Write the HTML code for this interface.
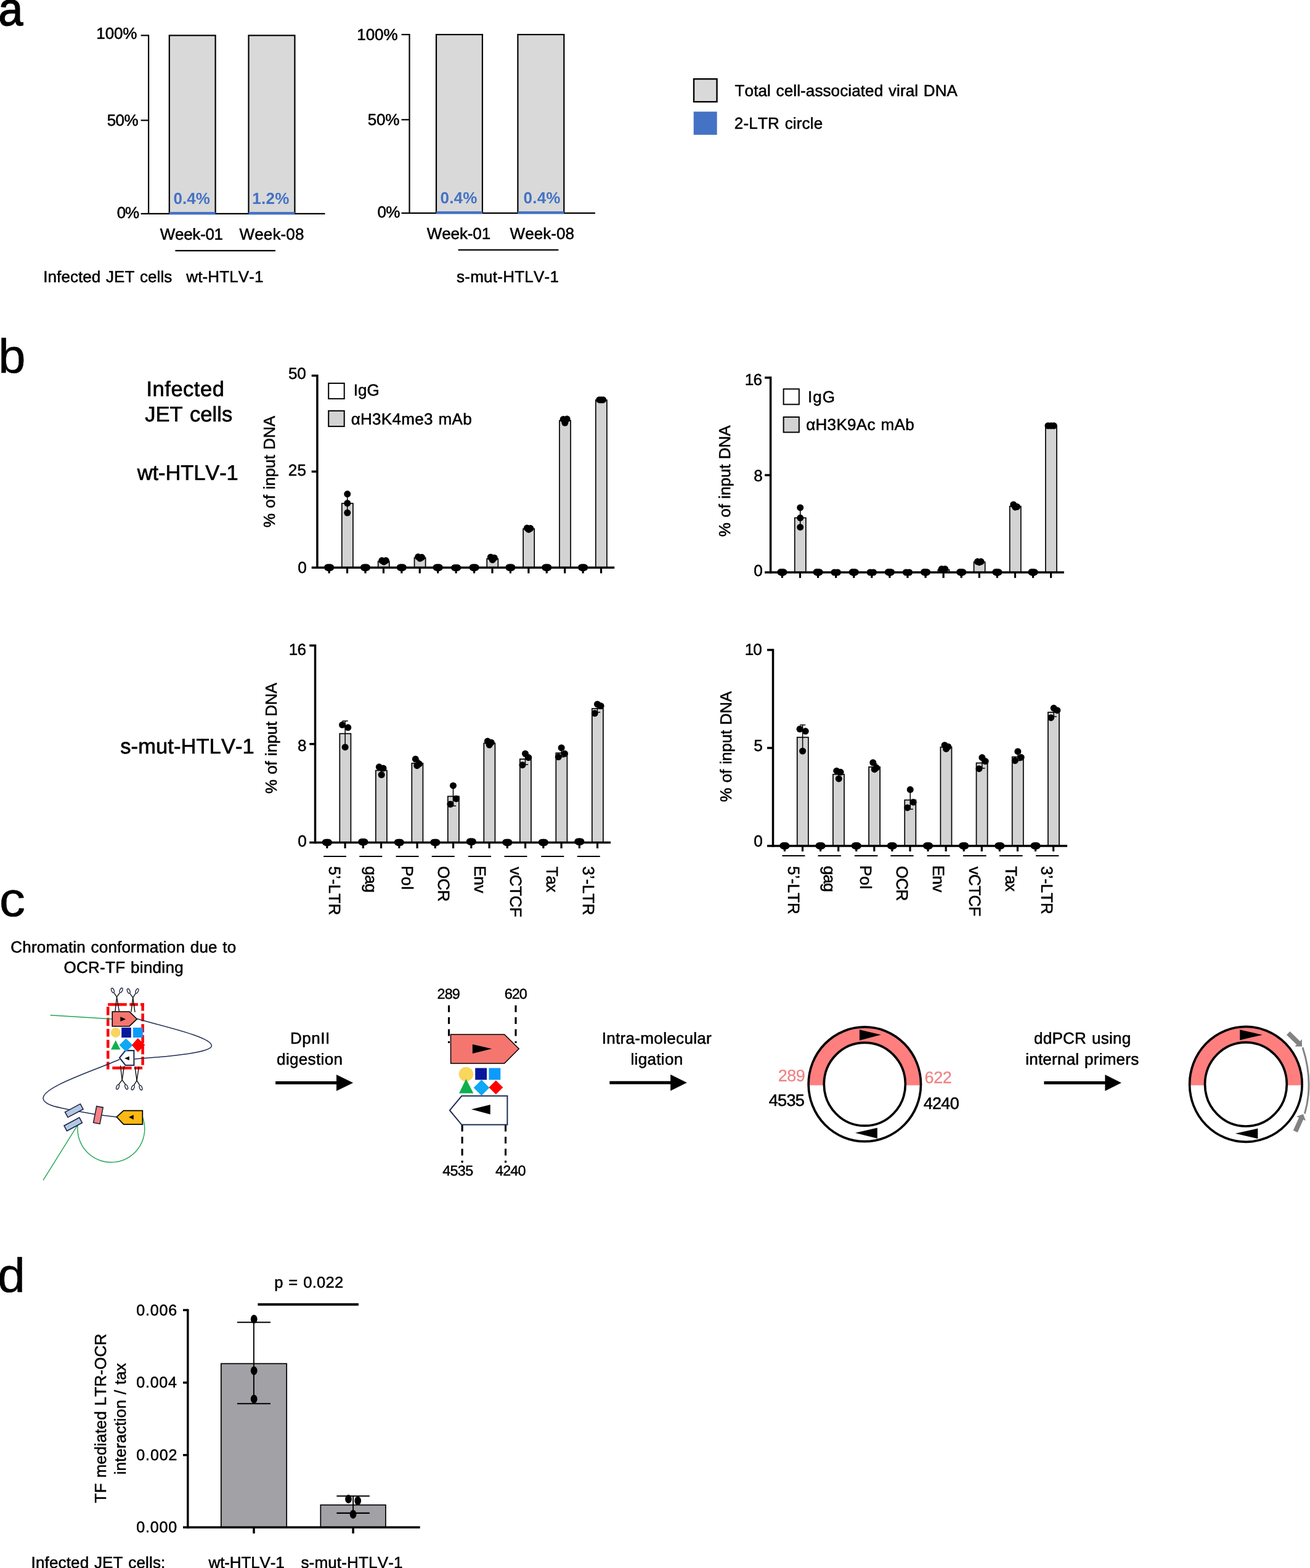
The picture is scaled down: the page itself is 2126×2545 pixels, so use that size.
<!DOCTYPE html>
<html lang="en">
<head>
<meta charset="utf-8">
<title>Figure</title>
<style>
html,body{margin:0;padding:0;background:#fff;}
body{width:2126px;height:2545px;overflow:hidden;}
svg{display:block;}
text{font-family:"Liberation Sans", sans-serif;font-kerning:none;text-rendering:geometricPrecision;white-space:pre;stroke-linejoin:round;}
</style>
</head>
<body>
<svg width="2126" height="2545" viewBox="0 0 2126 2545">
<rect x="0" y="0" width="2126" height="2545" fill="#fff"/>
<g id="panel-a">
<text transform="translate(-2.59 41.1) scale(0.9342 1)" x="0" y="0" font-size="76.48" stroke="#000" stroke-width="1.7">a</text>
<rect x="274.8" y="57.5" width="74.8" height="289.3" fill="#D9D9D9" stroke="#000" stroke-width="2.2"/>
<rect x="403.5" y="57.5" width="74.9" height="289.3" fill="#D9D9D9" stroke="#000" stroke-width="2.2"/>
<line x1="241.1" y1="56.5" x2="241.1" y2="347.8" stroke="#000" stroke-width="2.2"/>
<line x1="228.6" y1="346.8" x2="527.5" y2="346.8" stroke="#000" stroke-width="2.2"/>
<line x1="228.6" y1="57.5" x2="241.1" y2="57.5" stroke="#000" stroke-width="2.2"/>
<line x1="228.6" y1="195.3" x2="241.1" y2="195.3" stroke="#000" stroke-width="2.2"/>
<rect x="274.8" y="344" width="74.8" height="4.4" fill="#4472C4"/>
<rect x="403.5" y="344" width="74.9" height="4.4" fill="#4472C4"/>
<text x="156.29" y="63.3" font-size="26" letter-spacing="-0.112" stroke="#000" stroke-width="0.55">100%</text>
<text x="173.73" y="203.5" font-size="26" letter-spacing="-0.558" stroke="#000" stroke-width="0.55">50%</text>
<text x="189.86" y="353.9" font-size="26" letter-spacing="-1.282" stroke="#000" stroke-width="0.55">0%</text>
<text x="259.86" y="388.5" font-size="26" letter-spacing="-0.317" stroke="#000" stroke-width="0.55">Week-01</text>
<text x="388.46" y="388.5" font-size="26" letter-spacing="0.160" stroke="#000" stroke-width="0.55">Week-08</text>
<line x1="284.4" y1="406.8" x2="447" y2="406.8" stroke="#000" stroke-width="2.2"/>
<text x="281.57" y="331" font-size="26" letter-spacing="-0.016" font-weight="bold" fill="#4472C4">0.4%</text>
<text x="409.36" y="331" font-size="26" letter-spacing="0.254" font-weight="bold" fill="#4472C4">1.2%</text>
<rect x="708" y="56.1" width="74.9" height="289.7" fill="#D9D9D9" stroke="#000" stroke-width="2.2"/>
<rect x="840.4" y="56.1" width="74.9" height="289.7" fill="#D9D9D9" stroke="#000" stroke-width="2.2"/>
<line x1="664.5" y1="55.1" x2="664.5" y2="346.8" stroke="#000" stroke-width="2.2"/>
<line x1="651.5" y1="345.8" x2="966" y2="345.8" stroke="#000" stroke-width="2.2"/>
<line x1="651.5" y1="56.1" x2="664.5" y2="56.1" stroke="#000" stroke-width="2.2"/>
<line x1="651.5" y1="194.3" x2="664.5" y2="194.3" stroke="#000" stroke-width="2.2"/>
<rect x="708" y="343" width="74.9" height="4.4" fill="#4472C4"/>
<rect x="840.4" y="343" width="74.9" height="4.4" fill="#4472C4"/>
<text x="579.19" y="64.8" font-size="26" letter-spacing="-0.012" stroke="#000" stroke-width="0.55">100%</text>
<text x="596.73" y="202.5" font-size="26" letter-spacing="-0.158" stroke="#000" stroke-width="0.55">50%</text>
<text x="612.46" y="353" font-size="26" letter-spacing="-0.582" stroke="#000" stroke-width="0.55">0%</text>
<text x="692.76" y="387.6" font-size="26" letter-spacing="-0.100" stroke="#000" stroke-width="0.55">Week-01</text>
<text x="827.56" y="387.6" font-size="26" letter-spacing="0.043" stroke="#000" stroke-width="0.55">Week-08</text>
<line x1="743.6" y1="405.7" x2="906.4" y2="405.7" stroke="#000" stroke-width="2.2"/>
<text x="714.47" y="330" font-size="26" letter-spacing="0.217" font-weight="bold" fill="#4472C4">0.4%</text>
<text x="849.57" y="330" font-size="26" letter-spacing="0.217" font-weight="bold" fill="#4472C4">0.4%</text>
<text x="70.27" y="457.7" font-size="26" word-spacing="1.30" letter-spacing="0.071" stroke="#000" stroke-width="0.55">Infected JET cells</text>
<text x="302.31" y="457.7" font-size="26" letter-spacing="0.131" stroke="#000" stroke-width="0.55">wt-HTLV-1</text>
<text x="741.05" y="457.7" font-size="26" letter-spacing="0.246" stroke="#000" stroke-width="0.55">s-mut-HTLV-1</text>
<rect x="1126" y="128.2" width="37.5" height="37" fill="#D9D9D9" stroke="#000" stroke-width="2.4"/>
<rect x="1125.7" y="181.2" width="37.9" height="37.6" fill="#4472C4"/>
<text x="1192.59" y="155.8" font-size="26" word-spacing="1.30" letter-spacing="0.113" stroke="#000" stroke-width="0.55">Total cell-associated viral DNA</text>
<text x="1191.87" y="208.8" font-size="26" word-spacing="1.30" letter-spacing="0.171" stroke="#000" stroke-width="0.55">2-LTR circle</text>
</g>
<g id="panel-b">
<text transform="translate(-2.82 604.89) scale(1.0171 1)" x="0" y="0" font-size="78.16" stroke="#000" stroke-width="0.5">b</text>
<text x="237.48" y="642.6" font-size="34.5" letter-spacing="0.518" stroke="#000" stroke-width="0.72">Infected</text>
<text x="235.32" y="683.9" font-size="34.5" word-spacing="1.73" letter-spacing="0.025" stroke="#000" stroke-width="0.72">JET cells</text>
<text x="222.71" y="779.4" font-size="34.5" letter-spacing="-0.105" stroke="#000" stroke-width="0.72">wt-HTLV-1</text>
<text x="195.3" y="1222.6" font-size="34.5" letter-spacing="0.074" stroke="#000" stroke-width="0.72">s-mut-HTLV-1</text>
<rect x="554.78" y="817.1" width="18.1" height="104.2" fill="#D3D3D3" stroke="#000" stroke-width="1.7"/>
<rect x="613.64" y="911.2" width="18.1" height="10.1" fill="#D3D3D3" stroke="#000" stroke-width="1.7"/>
<rect x="672.5" y="905.3" width="18.1" height="16" fill="#D3D3D3" stroke="#000" stroke-width="1.7"/>
<rect x="790.22" y="906.9" width="18.1" height="14.4" fill="#D3D3D3" stroke="#000" stroke-width="1.7"/>
<rect x="849.08" y="858.3" width="18.1" height="63" fill="#D3D3D3" stroke="#000" stroke-width="1.7"/>
<rect x="907.94" y="682.6" width="18.1" height="238.7" fill="#D3D3D3" stroke="#000" stroke-width="1.7"/>
<rect x="966.8" y="649.3" width="18.1" height="272" fill="#D3D3D3" stroke="#000" stroke-width="1.7"/>
<line x1="563.7" y1="801.8" x2="563.7" y2="832.3" stroke="#000" stroke-width="1.5"/>
<line x1="514.9" y1="607.95" x2="514.9" y2="923.05" stroke="#000" stroke-width="3.5"/>
<line x1="505.7" y1="921.3" x2="997.2" y2="921.3" stroke="#000" stroke-width="3.5"/>
<line x1="505.7" y1="609.7" x2="514.9" y2="609.7" stroke="#000" stroke-width="3.5"/>
<line x1="505.7" y1="765.4" x2="514.9" y2="765.4" stroke="#000" stroke-width="3.5"/>
<line x1="534.1" y1="921.3" x2="534.1" y2="930.5" stroke="#000" stroke-width="3.2"/>
<line x1="563.53" y1="921.3" x2="563.53" y2="930.5" stroke="#000" stroke-width="3.2"/>
<line x1="592.96" y1="921.3" x2="592.96" y2="930.5" stroke="#000" stroke-width="3.2"/>
<line x1="622.39" y1="921.3" x2="622.39" y2="930.5" stroke="#000" stroke-width="3.2"/>
<line x1="651.82" y1="921.3" x2="651.82" y2="930.5" stroke="#000" stroke-width="3.2"/>
<line x1="681.25" y1="921.3" x2="681.25" y2="930.5" stroke="#000" stroke-width="3.2"/>
<line x1="710.68" y1="921.3" x2="710.68" y2="930.5" stroke="#000" stroke-width="3.2"/>
<line x1="740.11" y1="921.3" x2="740.11" y2="930.5" stroke="#000" stroke-width="3.2"/>
<line x1="769.54" y1="921.3" x2="769.54" y2="930.5" stroke="#000" stroke-width="3.2"/>
<line x1="798.97" y1="921.3" x2="798.97" y2="930.5" stroke="#000" stroke-width="3.2"/>
<line x1="828.4" y1="921.3" x2="828.4" y2="930.5" stroke="#000" stroke-width="3.2"/>
<line x1="857.83" y1="921.3" x2="857.83" y2="930.5" stroke="#000" stroke-width="3.2"/>
<line x1="887.26" y1="921.3" x2="887.26" y2="930.5" stroke="#000" stroke-width="3.2"/>
<line x1="916.69" y1="921.3" x2="916.69" y2="930.5" stroke="#000" stroke-width="3.2"/>
<line x1="946.12" y1="921.3" x2="946.12" y2="930.5" stroke="#000" stroke-width="3.2"/>
<line x1="975.55" y1="921.3" x2="975.55" y2="930.5" stroke="#000" stroke-width="3.2"/>
<ellipse cx="534.1" cy="921.2" rx="7.6" ry="5.9" fill="#000"/>
<circle cx="531.5" cy="921" r="5.5" fill="#000"/>
<circle cx="536.7" cy="921.1" r="5.5" fill="#000"/>
<circle cx="534.1" cy="921.9" r="5.5" fill="#000"/>
<ellipse cx="592.96" cy="921.2" rx="7.6" ry="5.9" fill="#000"/>
<circle cx="590.36" cy="921" r="5.5" fill="#000"/>
<circle cx="595.56" cy="921.1" r="5.5" fill="#000"/>
<circle cx="592.96" cy="921.9" r="5.5" fill="#000"/>
<ellipse cx="651.82" cy="921.2" rx="7.6" ry="5.9" fill="#000"/>
<circle cx="649.22" cy="921" r="5.5" fill="#000"/>
<circle cx="654.42" cy="921.1" r="5.5" fill="#000"/>
<circle cx="651.82" cy="921.9" r="5.5" fill="#000"/>
<ellipse cx="710.68" cy="921.2" rx="7.6" ry="5.9" fill="#000"/>
<circle cx="708.08" cy="921" r="5.5" fill="#000"/>
<circle cx="713.28" cy="921.1" r="5.5" fill="#000"/>
<circle cx="710.68" cy="921.9" r="5.5" fill="#000"/>
<ellipse cx="769.54" cy="921.2" rx="7.6" ry="5.9" fill="#000"/>
<circle cx="766.94" cy="921" r="5.5" fill="#000"/>
<circle cx="772.14" cy="921.1" r="5.5" fill="#000"/>
<circle cx="769.54" cy="921.9" r="5.5" fill="#000"/>
<ellipse cx="828.4" cy="921.2" rx="7.6" ry="5.9" fill="#000"/>
<circle cx="825.8" cy="921" r="5.5" fill="#000"/>
<circle cx="831" cy="921.1" r="5.5" fill="#000"/>
<circle cx="828.4" cy="921.9" r="5.5" fill="#000"/>
<ellipse cx="887.26" cy="921.2" rx="7.6" ry="5.9" fill="#000"/>
<circle cx="884.66" cy="921" r="5.5" fill="#000"/>
<circle cx="889.86" cy="921.1" r="5.5" fill="#000"/>
<circle cx="887.26" cy="921.9" r="5.5" fill="#000"/>
<ellipse cx="946.12" cy="921.2" rx="7.6" ry="5.9" fill="#000"/>
<circle cx="943.52" cy="921" r="5.5" fill="#000"/>
<circle cx="948.72" cy="921.1" r="5.5" fill="#000"/>
<circle cx="946.12" cy="921.9" r="5.5" fill="#000"/>
<circle cx="563.74" cy="801.79" r="5.5" fill="#000"/>
<circle cx="563.74" cy="816.76" r="5.5" fill="#000"/>
<circle cx="563.74" cy="832.33" r="5.5" fill="#000"/>
<circle cx="619.77" cy="909.85" r="5.5" fill="#000"/>
<circle cx="626.3" cy="909.85" r="5.5" fill="#000"/>
<circle cx="623.04" cy="911.93" r="5.5" fill="#000"/>
<circle cx="678.62" cy="903.78" r="5.5" fill="#000"/>
<circle cx="684.55" cy="904.52" r="5.5" fill="#000"/>
<circle cx="681.59" cy="906.3" r="5.5" fill="#000"/>
<circle cx="796.33" cy="904.24" r="5.5" fill="#000"/>
<circle cx="802.26" cy="905.42" r="5.5" fill="#000"/>
<circle cx="799.29" cy="908.68" r="5.5" fill="#000"/>
<circle cx="855.33" cy="857.1" r="5.5" fill="#000"/>
<circle cx="860.81" cy="857.54" r="5.5" fill="#000"/>
<circle cx="858" cy="859.47" r="5.5" fill="#000"/>
<circle cx="914.18" cy="680.4" r="5.5" fill="#000"/>
<circle cx="920.11" cy="680.1" r="5.5" fill="#000"/>
<circle cx="916.85" cy="686.33" r="5.5" fill="#000"/>
<circle cx="972.73" cy="648.97" r="5.5" fill="#000"/>
<circle cx="975.7" cy="649.12" r="5.5" fill="#000"/>
<circle cx="978.66" cy="648.97" r="5.5" fill="#000"/>
<circle cx="737.61" cy="921.4" r="5.5" fill="#000"/>
<circle cx="742.61" cy="921.4" r="5.5" fill="#000"/>
<circle cx="740.11" cy="921.6" r="5.5" fill="#000"/>
<text x="467.93" y="615.2" font-size="26" letter-spacing="-0.109" stroke="#000" stroke-width="0.55">50</text>
<text x="467.67" y="771.7" font-size="26" letter-spacing="0.283" stroke="#000" stroke-width="0.55">25</text>
<text x="483.16" y="929.8" font-size="26" stroke="#000" stroke-width="0.55">0</text>
<text transform="translate(445.8 855.7) rotate(-90)" x="-0.65" y="0" font-size="26" word-spacing="1.30" letter-spacing="-0.017" stroke="#000" stroke-width="0.55">% of input DNA</text>
<rect x="533.2" y="622.1" width="25.5" height="25.1" fill="#fff" stroke="#000" stroke-width="2"/>
<rect x="533.2" y="666.8" width="25.5" height="25.3" fill="#D3D3D3" stroke="#000" stroke-width="2"/>
<text x="573.87" y="642.3" font-size="26" letter-spacing="-0.056" stroke="#000" stroke-width="0.55">IgG</text>
<text x="569.68" y="688.5" font-size="26" word-spacing="1.30" letter-spacing="0.301" stroke="#000" stroke-width="0.55">αH3K4me3 mAb</text>
<rect x="1289.73" y="840.5" width="18.1" height="88.4" fill="#D3D3D3" stroke="#000" stroke-width="1.7"/>
<rect x="1522.37" y="924.7" width="18.1" height="4.2" fill="#D3D3D3" stroke="#000" stroke-width="1.7"/>
<rect x="1580.53" y="912.3" width="18.1" height="16.6" fill="#D3D3D3" stroke="#000" stroke-width="1.7"/>
<rect x="1638.69" y="821.8" width="18.1" height="107.1" fill="#D3D3D3" stroke="#000" stroke-width="1.7"/>
<rect x="1696.85" y="691.3" width="18.1" height="237.6" fill="#D3D3D3" stroke="#000" stroke-width="1.7"/>
<line x1="1298.71" y1="823.9" x2="1298.71" y2="855.72" stroke="#000" stroke-width="1.5"/>
<line x1="1250.6" y1="611.25" x2="1250.6" y2="930.65" stroke="#000" stroke-width="3.5"/>
<line x1="1241.1" y1="928.9" x2="1726.8" y2="928.9" stroke="#000" stroke-width="3.5"/>
<line x1="1241.1" y1="613" x2="1250.6" y2="613" stroke="#000" stroke-width="3.5"/>
<line x1="1241.1" y1="771.2" x2="1250.6" y2="771.2" stroke="#000" stroke-width="3.5"/>
<line x1="1269.4" y1="928.9" x2="1269.4" y2="938.1" stroke="#000" stroke-width="3.2"/>
<line x1="1298.48" y1="928.9" x2="1298.48" y2="938.1" stroke="#000" stroke-width="3.2"/>
<line x1="1327.56" y1="928.9" x2="1327.56" y2="938.1" stroke="#000" stroke-width="3.2"/>
<line x1="1356.64" y1="928.9" x2="1356.64" y2="938.1" stroke="#000" stroke-width="3.2"/>
<line x1="1385.72" y1="928.9" x2="1385.72" y2="938.1" stroke="#000" stroke-width="3.2"/>
<line x1="1414.8" y1="928.9" x2="1414.8" y2="938.1" stroke="#000" stroke-width="3.2"/>
<line x1="1443.88" y1="928.9" x2="1443.88" y2="938.1" stroke="#000" stroke-width="3.2"/>
<line x1="1472.96" y1="928.9" x2="1472.96" y2="938.1" stroke="#000" stroke-width="3.2"/>
<line x1="1502.04" y1="928.9" x2="1502.04" y2="938.1" stroke="#000" stroke-width="3.2"/>
<line x1="1531.12" y1="928.9" x2="1531.12" y2="938.1" stroke="#000" stroke-width="3.2"/>
<line x1="1560.2" y1="928.9" x2="1560.2" y2="938.1" stroke="#000" stroke-width="3.2"/>
<line x1="1589.28" y1="928.9" x2="1589.28" y2="938.1" stroke="#000" stroke-width="3.2"/>
<line x1="1618.36" y1="928.9" x2="1618.36" y2="938.1" stroke="#000" stroke-width="3.2"/>
<line x1="1647.44" y1="928.9" x2="1647.44" y2="938.1" stroke="#000" stroke-width="3.2"/>
<line x1="1676.52" y1="928.9" x2="1676.52" y2="938.1" stroke="#000" stroke-width="3.2"/>
<line x1="1705.6" y1="928.9" x2="1705.6" y2="938.1" stroke="#000" stroke-width="3.2"/>
<ellipse cx="1269.4" cy="928.8" rx="7.6" ry="5.9" fill="#000"/>
<circle cx="1266.8" cy="928.6" r="5.5" fill="#000"/>
<circle cx="1272" cy="928.7" r="5.5" fill="#000"/>
<circle cx="1269.4" cy="929.5" r="5.5" fill="#000"/>
<ellipse cx="1327.56" cy="928.8" rx="7.6" ry="5.9" fill="#000"/>
<circle cx="1324.96" cy="928.6" r="5.5" fill="#000"/>
<circle cx="1330.16" cy="928.7" r="5.5" fill="#000"/>
<circle cx="1327.56" cy="929.5" r="5.5" fill="#000"/>
<ellipse cx="1385.72" cy="928.8" rx="7.6" ry="5.9" fill="#000"/>
<circle cx="1383.12" cy="928.6" r="5.5" fill="#000"/>
<circle cx="1388.32" cy="928.7" r="5.5" fill="#000"/>
<circle cx="1385.72" cy="929.5" r="5.5" fill="#000"/>
<ellipse cx="1443.88" cy="928.8" rx="7.6" ry="5.9" fill="#000"/>
<circle cx="1441.28" cy="928.6" r="5.5" fill="#000"/>
<circle cx="1446.48" cy="928.7" r="5.5" fill="#000"/>
<circle cx="1443.88" cy="929.5" r="5.5" fill="#000"/>
<ellipse cx="1502.04" cy="928.8" rx="7.6" ry="5.9" fill="#000"/>
<circle cx="1499.44" cy="928.6" r="5.5" fill="#000"/>
<circle cx="1504.64" cy="928.7" r="5.5" fill="#000"/>
<circle cx="1502.04" cy="929.5" r="5.5" fill="#000"/>
<ellipse cx="1560.2" cy="928.8" rx="7.6" ry="5.9" fill="#000"/>
<circle cx="1557.6" cy="928.6" r="5.5" fill="#000"/>
<circle cx="1562.8" cy="928.7" r="5.5" fill="#000"/>
<circle cx="1560.2" cy="929.5" r="5.5" fill="#000"/>
<ellipse cx="1618.36" cy="928.8" rx="7.6" ry="5.9" fill="#000"/>
<circle cx="1615.76" cy="928.6" r="5.5" fill="#000"/>
<circle cx="1620.96" cy="928.7" r="5.5" fill="#000"/>
<circle cx="1618.36" cy="929.5" r="5.5" fill="#000"/>
<ellipse cx="1676.52" cy="928.8" rx="7.6" ry="5.9" fill="#000"/>
<circle cx="1673.92" cy="928.6" r="5.5" fill="#000"/>
<circle cx="1679.12" cy="928.7" r="5.5" fill="#000"/>
<circle cx="1676.52" cy="929.5" r="5.5" fill="#000"/>
<circle cx="1298.71" cy="823.9" r="5.5" fill="#000"/>
<circle cx="1298.71" cy="840.52" r="5.5" fill="#000"/>
<circle cx="1298.71" cy="855.72" r="5.5" fill="#000"/>
<circle cx="1528.12" cy="923.58" r="5.5" fill="#000"/>
<circle cx="1533.78" cy="923.58" r="5.5" fill="#000"/>
<circle cx="1530.95" cy="924.29" r="5.5" fill="#000"/>
<circle cx="1586.45" cy="911.57" r="5.5" fill="#000"/>
<circle cx="1592.1" cy="911.57" r="5.5" fill="#000"/>
<circle cx="1589.28" cy="912.63" r="5.5" fill="#000"/>
<circle cx="1644.77" cy="818.95" r="5.5" fill="#000"/>
<circle cx="1650.43" cy="822.49" r="5.5" fill="#000"/>
<circle cx="1647.6" cy="823.2" r="5.5" fill="#000"/>
<circle cx="1700.98" cy="690.99" r="5.5" fill="#000"/>
<circle cx="1705.57" cy="690.99" r="5.5" fill="#000"/>
<circle cx="1710.17" cy="690.99" r="5.5" fill="#000"/>
<circle cx="1353.94" cy="929" r="5.5" fill="#000"/>
<circle cx="1359.34" cy="929" r="5.5" fill="#000"/>
<circle cx="1356.64" cy="929.2" r="5.5" fill="#000"/>
<circle cx="1412.1" cy="929" r="5.5" fill="#000"/>
<circle cx="1417.5" cy="929" r="5.5" fill="#000"/>
<circle cx="1414.8" cy="929.2" r="5.5" fill="#000"/>
<circle cx="1470.26" cy="929" r="5.5" fill="#000"/>
<circle cx="1475.66" cy="929" r="5.5" fill="#000"/>
<circle cx="1472.96" cy="929.2" r="5.5" fill="#000"/>
<text x="1208.79" y="624.7" font-size="26" letter-spacing="-0.793" stroke="#000" stroke-width="0.55">16</text>
<text x="1223.24" y="780.6" font-size="26" stroke="#000" stroke-width="0.55">8</text>
<text x="1223.16" y="935.2" font-size="26" stroke="#000" stroke-width="0.55">0</text>
<text transform="translate(1184.5 870.6) rotate(-90)" x="-0.65" y="0" font-size="26" word-spacing="1.30" letter-spacing="-0.070" stroke="#000" stroke-width="0.55">% of input DNA</text>
<rect x="1271.6" y="631.4" width="25.2" height="25" fill="#fff" stroke="#000" stroke-width="2"/>
<rect x="1271.6" y="676.9" width="25.2" height="24.7" fill="#D3D3D3" stroke="#000" stroke-width="2"/>
<text x="1311.07" y="652.5" font-size="26" letter-spacing="0.944" stroke="#000" stroke-width="0.55">IgG</text>
<text x="1308.18" y="698.4" font-size="26" word-spacing="1.30" letter-spacing="0.314" stroke="#000" stroke-width="0.55">αH3K9Ac mAb</text>
<rect x="551.3" y="1190.7" width="18.1" height="176.8" fill="#D3D3D3" stroke="#000" stroke-width="1.7"/>
<rect x="609.8" y="1250.5" width="18.1" height="117" fill="#D3D3D3" stroke="#000" stroke-width="1.7"/>
<rect x="668.3" y="1238.8" width="18.1" height="128.7" fill="#D3D3D3" stroke="#000" stroke-width="1.7"/>
<rect x="726.8" y="1292.5" width="18.1" height="75" fill="#D3D3D3" stroke="#000" stroke-width="1.7"/>
<rect x="785.3" y="1206.3" width="18.1" height="161.2" fill="#D3D3D3" stroke="#000" stroke-width="1.7"/>
<rect x="843.8" y="1232.1" width="18.1" height="135.4" fill="#D3D3D3" stroke="#000" stroke-width="1.7"/>
<rect x="902.3" y="1222.2" width="18.1" height="145.3" fill="#D3D3D3" stroke="#000" stroke-width="1.7"/>
<rect x="960.8" y="1150.1" width="18.1" height="217.4" fill="#D3D3D3" stroke="#000" stroke-width="1.7"/>
<line x1="560.13" y1="1170.23" x2="560.13" y2="1210.88" stroke="#000" stroke-width="1.5"/>
<line x1="555.53" y1="1170.23" x2="564.73" y2="1170.23" stroke="#000" stroke-width="1.5"/>
<line x1="555.53" y1="1210.88" x2="564.73" y2="1210.88" stroke="#000" stroke-width="1.5"/>
<line x1="735.45" y1="1275.21" x2="735.45" y2="1308.09" stroke="#000" stroke-width="1.5"/>
<line x1="730.85" y1="1275.21" x2="740.05" y2="1275.21" stroke="#000" stroke-width="1.5"/>
<line x1="730.85" y1="1308.09" x2="740.05" y2="1308.09" stroke="#000" stroke-width="1.5"/>
<line x1="852.46" y1="1223.25" x2="852.46" y2="1240.93" stroke="#000" stroke-width="1.5"/>
<line x1="847.86" y1="1223.25" x2="857.06" y2="1223.25" stroke="#000" stroke-width="1.5"/>
<line x1="847.86" y1="1240.93" x2="857.06" y2="1240.93" stroke="#000" stroke-width="1.5"/>
<line x1="911.13" y1="1216.18" x2="911.13" y2="1228.55" stroke="#000" stroke-width="1.5"/>
<line x1="906.53" y1="1216.18" x2="915.73" y2="1216.18" stroke="#000" stroke-width="1.5"/>
<line x1="906.53" y1="1228.55" x2="915.73" y2="1228.55" stroke="#000" stroke-width="1.5"/>
<line x1="969.46" y1="1144.43" x2="969.46" y2="1156.09" stroke="#000" stroke-width="1.5"/>
<line x1="964.86" y1="1144.43" x2="974.06" y2="1144.43" stroke="#000" stroke-width="1.5"/>
<line x1="964.86" y1="1156.09" x2="974.06" y2="1156.09" stroke="#000" stroke-width="1.5"/>
<line x1="676.78" y1="1233.86" x2="676.78" y2="1242.69" stroke="#000" stroke-width="1.5"/>
<line x1="672.18" y1="1233.86" x2="681.38" y2="1233.86" stroke="#000" stroke-width="1.5"/>
<line x1="672.18" y1="1242.69" x2="681.38" y2="1242.69" stroke="#000" stroke-width="1.5"/>
<line x1="618.45" y1="1246.23" x2="618.45" y2="1256.13" stroke="#000" stroke-width="1.5"/>
<line x1="613.85" y1="1246.23" x2="623.05" y2="1246.23" stroke="#000" stroke-width="1.5"/>
<line x1="613.85" y1="1256.13" x2="623.05" y2="1256.13" stroke="#000" stroke-width="1.5"/>
<line x1="511.5" y1="1045.95" x2="511.5" y2="1369.25" stroke="#000" stroke-width="3.5"/>
<line x1="502.2" y1="1367.5" x2="991" y2="1367.5" stroke="#000" stroke-width="3.5"/>
<line x1="502.2" y1="1047.7" x2="511.5" y2="1047.7" stroke="#000" stroke-width="3.5"/>
<line x1="502.2" y1="1207.6" x2="511.5" y2="1207.6" stroke="#000" stroke-width="3.5"/>
<line x1="530.8" y1="1367.5" x2="530.8" y2="1376.9" stroke="#000" stroke-width="3.2"/>
<line x1="560.05" y1="1367.5" x2="560.05" y2="1376.9" stroke="#000" stroke-width="3.2"/>
<line x1="589.3" y1="1367.5" x2="589.3" y2="1376.9" stroke="#000" stroke-width="3.2"/>
<line x1="618.55" y1="1367.5" x2="618.55" y2="1376.9" stroke="#000" stroke-width="3.2"/>
<line x1="647.8" y1="1367.5" x2="647.8" y2="1376.9" stroke="#000" stroke-width="3.2"/>
<line x1="677.05" y1="1367.5" x2="677.05" y2="1376.9" stroke="#000" stroke-width="3.2"/>
<line x1="706.3" y1="1367.5" x2="706.3" y2="1376.9" stroke="#000" stroke-width="3.2"/>
<line x1="735.55" y1="1367.5" x2="735.55" y2="1376.9" stroke="#000" stroke-width="3.2"/>
<line x1="764.8" y1="1367.5" x2="764.8" y2="1376.9" stroke="#000" stroke-width="3.2"/>
<line x1="794.05" y1="1367.5" x2="794.05" y2="1376.9" stroke="#000" stroke-width="3.2"/>
<line x1="823.3" y1="1367.5" x2="823.3" y2="1376.9" stroke="#000" stroke-width="3.2"/>
<line x1="852.55" y1="1367.5" x2="852.55" y2="1376.9" stroke="#000" stroke-width="3.2"/>
<line x1="881.8" y1="1367.5" x2="881.8" y2="1376.9" stroke="#000" stroke-width="3.2"/>
<line x1="911.05" y1="1367.5" x2="911.05" y2="1376.9" stroke="#000" stroke-width="3.2"/>
<line x1="940.3" y1="1367.5" x2="940.3" y2="1376.9" stroke="#000" stroke-width="3.2"/>
<line x1="969.55" y1="1367.5" x2="969.55" y2="1376.9" stroke="#000" stroke-width="3.2"/>
<ellipse cx="530.8" cy="1367.4" rx="7.6" ry="5.9" fill="#000"/>
<circle cx="528.2" cy="1367.2" r="5.5" fill="#000"/>
<circle cx="533.4" cy="1367.3" r="5.5" fill="#000"/>
<circle cx="530.8" cy="1368.1" r="5.5" fill="#000"/>
<ellipse cx="589.3" cy="1366.6" rx="7.6" ry="5.9" fill="#000"/>
<circle cx="586.7" cy="1366.4" r="5.5" fill="#000"/>
<circle cx="591.9" cy="1366.5" r="5.5" fill="#000"/>
<circle cx="589.3" cy="1367.3" r="5.5" fill="#000"/>
<ellipse cx="647.8" cy="1367.4" rx="7.6" ry="5.9" fill="#000"/>
<circle cx="645.2" cy="1367.2" r="5.5" fill="#000"/>
<circle cx="650.4" cy="1367.3" r="5.5" fill="#000"/>
<circle cx="647.8" cy="1368.1" r="5.5" fill="#000"/>
<ellipse cx="706.3" cy="1367.4" rx="7.6" ry="5.9" fill="#000"/>
<circle cx="703.7" cy="1367.2" r="5.5" fill="#000"/>
<circle cx="708.9" cy="1367.3" r="5.5" fill="#000"/>
<circle cx="706.3" cy="1368.1" r="5.5" fill="#000"/>
<ellipse cx="764.8" cy="1366.1" rx="7.6" ry="5.9" fill="#000"/>
<circle cx="762.2" cy="1365.9" r="5.5" fill="#000"/>
<circle cx="767.4" cy="1366" r="5.5" fill="#000"/>
<circle cx="764.8" cy="1366.8" r="5.5" fill="#000"/>
<ellipse cx="823.3" cy="1367.4" rx="7.6" ry="5.9" fill="#000"/>
<circle cx="820.7" cy="1367.2" r="5.5" fill="#000"/>
<circle cx="825.9" cy="1367.3" r="5.5" fill="#000"/>
<circle cx="823.3" cy="1368.1" r="5.5" fill="#000"/>
<ellipse cx="881.8" cy="1367.4" rx="7.6" ry="5.9" fill="#000"/>
<circle cx="879.2" cy="1367.2" r="5.5" fill="#000"/>
<circle cx="884.4" cy="1367.3" r="5.5" fill="#000"/>
<circle cx="881.8" cy="1368.1" r="5.5" fill="#000"/>
<ellipse cx="940.3" cy="1366.1" rx="7.6" ry="5.9" fill="#000"/>
<circle cx="937.7" cy="1365.9" r="5.5" fill="#000"/>
<circle cx="942.9" cy="1366" r="5.5" fill="#000"/>
<circle cx="940.3" cy="1366.8" r="5.5" fill="#000"/>
<circle cx="555.53" cy="1176.59" r="5.5" fill="#000"/>
<circle cx="564.72" cy="1180.83" r="5.5" fill="#000"/>
<circle cx="560.13" cy="1212.65" r="5.5" fill="#000"/>
<circle cx="615.27" cy="1244.81" r="5.5" fill="#000"/>
<circle cx="621.99" cy="1246.94" r="5.5" fill="#000"/>
<circle cx="619.16" cy="1257.54" r="5.5" fill="#000"/>
<circle cx="674.3" cy="1232.09" r="5.5" fill="#000"/>
<circle cx="680.31" cy="1239.87" r="5.5" fill="#000"/>
<circle cx="676.78" cy="1242.69" r="5.5" fill="#000"/>
<circle cx="735.45" cy="1275.21" r="5.5" fill="#000"/>
<circle cx="740.4" cy="1296.42" r="5.5" fill="#000"/>
<circle cx="730.86" cy="1305.26" r="5.5" fill="#000"/>
<circle cx="791.3" cy="1203.1" r="5.5" fill="#000"/>
<circle cx="797.31" cy="1205.22" r="5.5" fill="#000"/>
<circle cx="794.13" cy="1209.11" r="5.5" fill="#000"/>
<circle cx="852.46" cy="1223.25" r="5.5" fill="#000"/>
<circle cx="857.76" cy="1229.61" r="5.5" fill="#000"/>
<circle cx="847.86" cy="1241.63" r="5.5" fill="#000"/>
<circle cx="911.13" cy="1213.71" r="5.5" fill="#000"/>
<circle cx="916.44" cy="1223.25" r="5.5" fill="#000"/>
<circle cx="906.19" cy="1228.55" r="5.5" fill="#000"/>
<circle cx="969.46" cy="1143.01" r="5.5" fill="#000"/>
<circle cx="975.11" cy="1145.84" r="5.5" fill="#000"/>
<circle cx="965.22" cy="1157.86" r="5.5" fill="#000"/>
<text x="468.79" y="1062.6" font-size="26" letter-spacing="-0.793" stroke="#000" stroke-width="0.55">16</text>
<text x="482.94" y="1218.7" font-size="26" stroke="#000" stroke-width="0.55">8</text>
<text x="483.36" y="1373.6" font-size="26" stroke="#000" stroke-width="0.55">0</text>
<text transform="translate(449 1287.5) rotate(-90)" x="-0.65" y="0" font-size="26" word-spacing="1.30" letter-spacing="-0.132" stroke="#000" stroke-width="0.55">% of input DNA</text>
<line x1="525.09" y1="1389.9" x2="561.86" y2="1389.9" stroke="#000" stroke-width="2"/>
<line x1="583.24" y1="1389.9" x2="620.3" y2="1389.9" stroke="#000" stroke-width="2"/>
<line x1="642.53" y1="1389.9" x2="679.59" y2="1389.9" stroke="#000" stroke-width="2"/>
<line x1="700.68" y1="1389.9" x2="737.74" y2="1389.9" stroke="#000" stroke-width="2"/>
<line x1="759.98" y1="1389.9" x2="797.04" y2="1389.9" stroke="#000" stroke-width="2"/>
<line x1="818.42" y1="1389.9" x2="855.47" y2="1389.9" stroke="#000" stroke-width="2"/>
<line x1="878.28" y1="1389.9" x2="915.34" y2="1389.9" stroke="#000" stroke-width="2"/>
<line x1="936.72" y1="1389.9" x2="973.77" y2="1389.9" stroke="#000" stroke-width="2"/>
<text transform="translate(534.2 1406.8) rotate(90)" x="-0.78" y="0" font-size="26.3" letter-spacing="0.122" stroke="#000" stroke-width="0.55">5’-LTR</text>
<text transform="translate(593.05 1406.8) rotate(90)" x="-0.83" y="0" font-size="26.3" letter-spacing="-0.467" stroke="#000" stroke-width="0.55">gag</text>
<text transform="translate(651.9 1406.8) rotate(90)" x="-1.88" y="0" font-size="26.3" letter-spacing="0.626" stroke="#000" stroke-width="0.55">Pol</text>
<text transform="translate(710.75 1406.8) rotate(90)" x="-0.97" y="0" font-size="26.3" letter-spacing="-0.365" stroke="#000" stroke-width="0.55">OCR</text>
<text transform="translate(769.6 1406.8) rotate(90)" x="-1.88" y="0" font-size="26.3" letter-spacing="-0.312" stroke="#000" stroke-width="0.55">Env</text>
<text transform="translate(828.45 1406.8) rotate(90)" x="0.19" y="0" font-size="26.3" letter-spacing="-0.444" stroke="#000" stroke-width="0.55">vCTCF</text>
<text transform="translate(887.3 1406.8) rotate(90)" x="-0.31" y="0" font-size="26.3" letter-spacing="-0.960" stroke="#000" stroke-width="0.55">Tax</text>
<text transform="translate(946.15 1406.8) rotate(90)" x="-0.73" y="0" font-size="26.3" letter-spacing="0.111" stroke="#000" stroke-width="0.55">3’-LTR</text>
<rect x="1293.73" y="1196.7" width="18.1" height="176.3" fill="#D3D3D3" stroke="#000" stroke-width="1.7"/>
<rect x="1351.89" y="1256.8" width="18.1" height="116.2" fill="#D3D3D3" stroke="#000" stroke-width="1.7"/>
<rect x="1410.05" y="1244.8" width="18.1" height="128.2" fill="#D3D3D3" stroke="#000" stroke-width="1.7"/>
<rect x="1468.21" y="1298.5" width="18.1" height="74.5" fill="#D3D3D3" stroke="#000" stroke-width="1.7"/>
<rect x="1526.37" y="1212.6" width="18.1" height="160.4" fill="#D3D3D3" stroke="#000" stroke-width="1.7"/>
<rect x="1584.53" y="1238.4" width="18.1" height="134.6" fill="#D3D3D3" stroke="#000" stroke-width="1.7"/>
<rect x="1642.69" y="1228.5" width="18.1" height="144.5" fill="#D3D3D3" stroke="#000" stroke-width="1.7"/>
<rect x="1700.85" y="1156.1" width="18.1" height="216.9" fill="#D3D3D3" stroke="#000" stroke-width="1.7"/>
<line x1="1302.6" y1="1176.59" x2="1302.6" y2="1217.24" stroke="#000" stroke-width="1.5"/>
<line x1="1298" y1="1176.59" x2="1307.2" y2="1176.59" stroke="#000" stroke-width="1.5"/>
<line x1="1298" y1="1217.24" x2="1307.2" y2="1217.24" stroke="#000" stroke-width="1.5"/>
<line x1="1477.22" y1="1281.58" x2="1477.22" y2="1313.39" stroke="#000" stroke-width="1.5"/>
<line x1="1472.62" y1="1281.58" x2="1481.82" y2="1281.58" stroke="#000" stroke-width="1.5"/>
<line x1="1472.62" y1="1313.39" x2="1481.82" y2="1313.39" stroke="#000" stroke-width="1.5"/>
<line x1="1593.87" y1="1229.61" x2="1593.87" y2="1246.94" stroke="#000" stroke-width="1.5"/>
<line x1="1589.27" y1="1229.61" x2="1598.47" y2="1229.61" stroke="#000" stroke-width="1.5"/>
<line x1="1589.27" y1="1246.94" x2="1598.47" y2="1246.94" stroke="#000" stroke-width="1.5"/>
<line x1="1651.84" y1="1222.19" x2="1651.84" y2="1234.56" stroke="#000" stroke-width="1.5"/>
<line x1="1647.24" y1="1222.19" x2="1656.44" y2="1222.19" stroke="#000" stroke-width="1.5"/>
<line x1="1647.24" y1="1234.56" x2="1656.44" y2="1234.56" stroke="#000" stroke-width="1.5"/>
<line x1="1710.17" y1="1150.79" x2="1710.17" y2="1163.16" stroke="#000" stroke-width="1.5"/>
<line x1="1705.57" y1="1150.79" x2="1714.77" y2="1150.79" stroke="#000" stroke-width="1.5"/>
<line x1="1705.57" y1="1163.16" x2="1714.77" y2="1163.16" stroke="#000" stroke-width="1.5"/>
<line x1="1419.25" y1="1239.87" x2="1419.25" y2="1248.7" stroke="#000" stroke-width="1.5"/>
<line x1="1414.65" y1="1239.87" x2="1423.85" y2="1239.87" stroke="#000" stroke-width="1.5"/>
<line x1="1414.65" y1="1248.7" x2="1423.85" y2="1248.7" stroke="#000" stroke-width="1.5"/>
<line x1="1360.93" y1="1252.24" x2="1360.93" y2="1262.49" stroke="#000" stroke-width="1.5"/>
<line x1="1356.33" y1="1252.24" x2="1365.53" y2="1252.24" stroke="#000" stroke-width="1.5"/>
<line x1="1356.33" y1="1262.49" x2="1365.53" y2="1262.49" stroke="#000" stroke-width="1.5"/>
<line x1="1254.5" y1="1053.15" x2="1254.5" y2="1374.75" stroke="#000" stroke-width="3.5"/>
<line x1="1245" y1="1373" x2="1732.1" y2="1373" stroke="#000" stroke-width="3.5"/>
<line x1="1245" y1="1054.9" x2="1254.5" y2="1054.9" stroke="#000" stroke-width="3.5"/>
<line x1="1245" y1="1214" x2="1254.5" y2="1214" stroke="#000" stroke-width="3.5"/>
<line x1="1273.4" y1="1373" x2="1273.4" y2="1381.9" stroke="#000" stroke-width="3.2"/>
<line x1="1302.48" y1="1373" x2="1302.48" y2="1381.9" stroke="#000" stroke-width="3.2"/>
<line x1="1331.56" y1="1373" x2="1331.56" y2="1381.9" stroke="#000" stroke-width="3.2"/>
<line x1="1360.64" y1="1373" x2="1360.64" y2="1381.9" stroke="#000" stroke-width="3.2"/>
<line x1="1389.72" y1="1373" x2="1389.72" y2="1381.9" stroke="#000" stroke-width="3.2"/>
<line x1="1418.8" y1="1373" x2="1418.8" y2="1381.9" stroke="#000" stroke-width="3.2"/>
<line x1="1447.88" y1="1373" x2="1447.88" y2="1381.9" stroke="#000" stroke-width="3.2"/>
<line x1="1476.96" y1="1373" x2="1476.96" y2="1381.9" stroke="#000" stroke-width="3.2"/>
<line x1="1506.04" y1="1373" x2="1506.04" y2="1381.9" stroke="#000" stroke-width="3.2"/>
<line x1="1535.12" y1="1373" x2="1535.12" y2="1381.9" stroke="#000" stroke-width="3.2"/>
<line x1="1564.2" y1="1373" x2="1564.2" y2="1381.9" stroke="#000" stroke-width="3.2"/>
<line x1="1593.28" y1="1373" x2="1593.28" y2="1381.9" stroke="#000" stroke-width="3.2"/>
<line x1="1622.36" y1="1373" x2="1622.36" y2="1381.9" stroke="#000" stroke-width="3.2"/>
<line x1="1651.44" y1="1373" x2="1651.44" y2="1381.9" stroke="#000" stroke-width="3.2"/>
<line x1="1680.52" y1="1373" x2="1680.52" y2="1381.9" stroke="#000" stroke-width="3.2"/>
<line x1="1709.6" y1="1373" x2="1709.6" y2="1381.9" stroke="#000" stroke-width="3.2"/>
<ellipse cx="1273.4" cy="1372.9" rx="7.6" ry="5.9" fill="#000"/>
<circle cx="1270.8" cy="1372.7" r="5.5" fill="#000"/>
<circle cx="1276" cy="1372.8" r="5.5" fill="#000"/>
<circle cx="1273.4" cy="1373.6" r="5.5" fill="#000"/>
<ellipse cx="1331.56" cy="1372.9" rx="7.6" ry="5.9" fill="#000"/>
<circle cx="1328.96" cy="1372.7" r="5.5" fill="#000"/>
<circle cx="1334.16" cy="1372.8" r="5.5" fill="#000"/>
<circle cx="1331.56" cy="1373.6" r="5.5" fill="#000"/>
<ellipse cx="1389.72" cy="1372.9" rx="7.6" ry="5.9" fill="#000"/>
<circle cx="1387.12" cy="1372.7" r="5.5" fill="#000"/>
<circle cx="1392.32" cy="1372.8" r="5.5" fill="#000"/>
<circle cx="1389.72" cy="1373.6" r="5.5" fill="#000"/>
<ellipse cx="1447.88" cy="1372.9" rx="7.6" ry="5.9" fill="#000"/>
<circle cx="1445.28" cy="1372.7" r="5.5" fill="#000"/>
<circle cx="1450.48" cy="1372.8" r="5.5" fill="#000"/>
<circle cx="1447.88" cy="1373.6" r="5.5" fill="#000"/>
<ellipse cx="1506.04" cy="1372.9" rx="7.6" ry="5.9" fill="#000"/>
<circle cx="1503.44" cy="1372.7" r="5.5" fill="#000"/>
<circle cx="1508.64" cy="1372.8" r="5.5" fill="#000"/>
<circle cx="1506.04" cy="1373.6" r="5.5" fill="#000"/>
<ellipse cx="1564.2" cy="1372.9" rx="7.6" ry="5.9" fill="#000"/>
<circle cx="1561.6" cy="1372.7" r="5.5" fill="#000"/>
<circle cx="1566.8" cy="1372.8" r="5.5" fill="#000"/>
<circle cx="1564.2" cy="1373.6" r="5.5" fill="#000"/>
<ellipse cx="1622.36" cy="1372.9" rx="7.6" ry="5.9" fill="#000"/>
<circle cx="1619.76" cy="1372.7" r="5.5" fill="#000"/>
<circle cx="1624.96" cy="1372.8" r="5.5" fill="#000"/>
<circle cx="1622.36" cy="1373.6" r="5.5" fill="#000"/>
<ellipse cx="1680.52" cy="1372.9" rx="7.6" ry="5.9" fill="#000"/>
<circle cx="1677.92" cy="1372.7" r="5.5" fill="#000"/>
<circle cx="1683.12" cy="1372.8" r="5.5" fill="#000"/>
<circle cx="1680.52" cy="1373.6" r="5.5" fill="#000"/>
<circle cx="1298.01" cy="1183.31" r="5.5" fill="#000"/>
<circle cx="1307.2" cy="1186.84" r="5.5" fill="#000"/>
<circle cx="1302.6" cy="1219.01" r="5.5" fill="#000"/>
<circle cx="1357.74" cy="1251.18" r="5.5" fill="#000"/>
<circle cx="1364.11" cy="1253.3" r="5.5" fill="#000"/>
<circle cx="1361.28" cy="1263.9" r="5.5" fill="#000"/>
<circle cx="1416.78" cy="1237.74" r="5.5" fill="#000"/>
<circle cx="1422.43" cy="1246.23" r="5.5" fill="#000"/>
<circle cx="1419.25" cy="1248.7" r="5.5" fill="#000"/>
<circle cx="1477.22" cy="1281.58" r="5.5" fill="#000"/>
<circle cx="1482.17" cy="1302.08" r="5.5" fill="#000"/>
<circle cx="1472.63" cy="1310.92" r="5.5" fill="#000"/>
<circle cx="1533.07" cy="1209.47" r="5.5" fill="#000"/>
<circle cx="1538.73" cy="1211.94" r="5.5" fill="#000"/>
<circle cx="1535.55" cy="1215.48" r="5.5" fill="#000"/>
<circle cx="1593.87" cy="1229.61" r="5.5" fill="#000"/>
<circle cx="1599.17" cy="1235.62" r="5.5" fill="#000"/>
<circle cx="1588.92" cy="1247.64" r="5.5" fill="#000"/>
<circle cx="1651.84" cy="1219.72" r="5.5" fill="#000"/>
<circle cx="1657.14" cy="1229.26" r="5.5" fill="#000"/>
<circle cx="1647.25" cy="1234.56" r="5.5" fill="#000"/>
<circle cx="1710.17" cy="1149.37" r="5.5" fill="#000"/>
<circle cx="1715.82" cy="1152.91" r="5.5" fill="#000"/>
<circle cx="1705.57" cy="1164.93" r="5.5" fill="#000"/>
<text x="1208.79" y="1062.6" font-size="26" letter-spacing="-1.070" stroke="#000" stroke-width="0.55">10</text>
<text x="1223.13" y="1218.8" font-size="26" stroke="#000" stroke-width="0.55">5</text>
<text x="1223.16" y="1373.8" font-size="26" stroke="#000" stroke-width="0.55">0</text>
<text transform="translate(1187 1301) rotate(-90)" x="-0.65" y="0" font-size="26" word-spacing="1.30" letter-spacing="-0.155" stroke="#000" stroke-width="0.55">% of input DNA</text>
<line x1="1269.36" y1="1389.1" x2="1306.42" y2="1389.1" stroke="#000" stroke-width="2"/>
<line x1="1327.51" y1="1389.1" x2="1364.86" y2="1389.1" stroke="#000" stroke-width="2"/>
<line x1="1386.81" y1="1389.1" x2="1424.44" y2="1389.1" stroke="#000" stroke-width="2"/>
<line x1="1445.25" y1="1389.1" x2="1482.59" y2="1389.1" stroke="#000" stroke-width="2"/>
<line x1="1504.54" y1="1389.1" x2="1541.6" y2="1389.1" stroke="#000" stroke-width="2"/>
<line x1="1562.98" y1="1389.1" x2="1600.6" y2="1389.1" stroke="#000" stroke-width="2"/>
<line x1="1621.98" y1="1389.1" x2="1659.61" y2="1389.1" stroke="#000" stroke-width="2"/>
<line x1="1680.99" y1="1389.1" x2="1718.34" y2="1389.1" stroke="#000" stroke-width="2"/>
<text transform="translate(1278.5 1406.4) rotate(90)" x="-0.78" y="0" font-size="26.3" letter-spacing="-0.098" stroke="#000" stroke-width="0.55">5’-LTR</text>
<text transform="translate(1337.34 1406.4) rotate(90)" x="-0.83" y="0" font-size="26.3" letter-spacing="-0.767" stroke="#000" stroke-width="0.55">gag</text>
<text transform="translate(1396.18 1406.4) rotate(90)" x="-1.88" y="0" font-size="26.3" letter-spacing="0.226" stroke="#000" stroke-width="0.55">Pol</text>
<text transform="translate(1455.02 1406.4) rotate(90)" x="-0.97" y="0" font-size="26.3" letter-spacing="-0.715" stroke="#000" stroke-width="0.55">OCR</text>
<text transform="translate(1513.86 1406.4) rotate(90)" x="-1.88" y="0" font-size="26.3" letter-spacing="-0.762" stroke="#000" stroke-width="0.55">Env</text>
<text transform="translate(1572.7 1406.4) rotate(90)" x="0.19" y="0" font-size="26.3" letter-spacing="-0.644" stroke="#000" stroke-width="0.55">vCTCF</text>
<text transform="translate(1631.54 1406.4) rotate(90)" x="-0.31" y="0" font-size="26.3" letter-spacing="-1.360" stroke="#000" stroke-width="0.55">Tax</text>
<text transform="translate(1690.38 1406.4) rotate(90)" x="-0.73" y="0" font-size="26.3" letter-spacing="-0.109" stroke="#000" stroke-width="0.55">3’-LTR</text>
</g>
<g id="panel-c">
<text transform="translate(-1.29 1486.88) scale(1.0746 1)" x="0" y="0" font-size="78.67" stroke="#000" stroke-width="0.5">c</text>
<text x="17.35" y="1545.5" font-size="26" word-spacing="1.30" letter-spacing="0.179" stroke="#000" stroke-width="0.55">Chromatin conformation due to</text>
<text x="103.44" y="1578.8" font-size="26" word-spacing="1.30" letter-spacing="0.276" stroke="#000" stroke-width="0.55">OCR-TF binding</text>
<rect x="175.1" y="1628.15" width="30.6" height="4.5" fill="#FF0000"/>
<rect x="210.3" y="1628.15" width="13.6" height="4.5" fill="#FF0000"/>
<rect x="228" y="1628.15" width="5.9" height="4.5" fill="#FF0000"/>
<rect x="172.95" y="1634" width="4.5" height="13.8" fill="#FF0000"/>
<rect x="172.95" y="1652" width="4.5" height="13.3" fill="#FF0000"/>
<rect x="172.95" y="1669.9" width="4.5" height="12.7" fill="#FF0000"/>
<rect x="172.95" y="1687.7" width="4.5" height="13.1" fill="#FF0000"/>
<rect x="172.95" y="1705.4" width="4.5" height="13.1" fill="#FF0000"/>
<rect x="172.95" y="1723.4" width="4.5" height="12.3" fill="#FF0000"/>
<rect x="229.35" y="1628.2" width="4.5" height="12.5" fill="#FF0000"/>
<rect x="229.35" y="1645" width="4.5" height="12.6" fill="#FF0000"/>
<rect x="229.35" y="1662.2" width="4.5" height="13.4" fill="#FF0000"/>
<rect x="229.35" y="1679.9" width="4.5" height="13.3" fill="#FF0000"/>
<rect x="229.35" y="1697.6" width="4.5" height="13.7" fill="#FF0000"/>
<rect x="229.35" y="1715.1" width="4.5" height="13.6" fill="#FF0000"/>
<rect x="182.3" y="1731.15" width="31.3" height="4.5" fill="#FF0000"/>
<rect x="218" y="1731.15" width="13.1" height="4.5" fill="#FF0000"/>
<path d="M222.21,1653.58 C262.91,1665.6 344.32,1683.04 343.35,1697.58 C342.38,1708.24 282.3,1714.06 218.33,1718.9" fill="none" stroke="#1C2D55" stroke-width="1.5"/>
<path d="M194.1,1719.48 C148.55,1739.25 69.08,1764.45 70.04,1782.87 C71.01,1793.53 94.27,1797.4 111.72,1800.89 L156.3,1809.03 L189.25,1812.91" fill="none" stroke="#1C2D55" stroke-width="1.5"/>
<line x1="81.67" y1="1647.76" x2="183.05" y2="1653.97" stroke="#1DA653" stroke-width="1.4"/>
<path d="M231.32,1812.91 A54.47 54.47 0 1 1 126.26,1825.51 L70.04,1915.64" fill="none" stroke="#1DA653" stroke-width="1.4"/>
<polygon points="194,1716.9 203.6,1705.1 217.4,1705.1 217.4,1729 203.6,1729" fill="#fff" stroke="#1C2D55" stroke-width="2.1"/>
<polygon points="209.8,1714.4 209.8,1721 202.1,1717.7" fill="#000"/>
<polygon points="182.2,1642.05 210,1642.05 222.2,1654 210,1665.7 182.2,1665.7" fill="#F4766F" stroke="#000" stroke-width="1.6"/>
<polygon points="195.4,1650.2 195.4,1658.1 204.1,1654.3" fill="#000"/>
<circle cx="187.7" cy="1676.1" r="7.8" fill="#F9D65C"/>
<rect x="197.2" y="1667.9" width="15.6" height="16.2" fill="#07189C"/>
<rect x="215.9" y="1667.9" width="15.9" height="16.2" fill="#0C9BFA"/>
<polygon points="187.7,1688.5 180,1703.6 195.4,1703.6" fill="#0DB04F"/>
<polygon points="204.4,1685.4 215.7,1696.4 204.4,1706.9 193.6,1696.2" fill="#0FA8F5"/>
<polygon points="223.6,1684.9 235.4,1695.9 223.6,1707.7 213.9,1696.2" fill="#FF0000"/>
<path d="M185.14,1611.68 L189.5,1618.09 L193.35,1641.43" fill="none" stroke="#111" stroke-width="1.4" stroke-linejoin="round"/>
<path d="M194.27,1611.52 L189.5,1618.09 L186.94,1641.43" fill="none" stroke="#111" stroke-width="1.4" stroke-linejoin="round"/>
<ellipse cx="182.93" cy="1607.57" rx="2" ry="4" fill="#fff" stroke="#1B2540" stroke-width="1.35" transform="rotate(-22 182.93 1607.57)"/>
<ellipse cx="196.53" cy="1607.31" rx="2" ry="4" fill="#fff" stroke="#1B2540" stroke-width="1.35" transform="rotate(24 196.53 1607.31)"/>
<path d="M210.9,1612.7 L215.67,1619.11 L219,1642.97" fill="none" stroke="#111" stroke-width="1.4" stroke-linejoin="round"/>
<path d="M220.13,1612.44 L215.67,1619.11 L212.85,1642.46" fill="none" stroke="#111" stroke-width="1.4" stroke-linejoin="round"/>
<ellipse cx="208.74" cy="1608.6" rx="2" ry="4" fill="#fff" stroke="#1B2540" stroke-width="1.35" transform="rotate(-22 208.74 1608.6)"/>
<ellipse cx="222.34" cy="1608.44" rx="2" ry="4" fill="#fff" stroke="#1B2540" stroke-width="1.35" transform="rotate(24 222.34 1608.44)"/>
<path d="M192.84,1760.04 L198.22,1752.86 L195.4,1729.51" fill="none" stroke="#111" stroke-width="1.4" stroke-linejoin="round"/>
<path d="M203.51,1760.04 L198.22,1752.86 L201.56,1730.03" fill="none" stroke="#111" stroke-width="1.4" stroke-linejoin="round"/>
<ellipse cx="191.04" cy="1764.15" rx="2" ry="4" fill="#fff" stroke="#1B2540" stroke-width="1.35" transform="rotate(22 191.04 1764.15)"/>
<ellipse cx="205.15" cy="1764.15" rx="2" ry="4" fill="#fff" stroke="#1B2540" stroke-width="1.35" transform="rotate(-22 205.15 1764.15)"/>
<path d="M217.47,1761.17 L222.08,1753.88 L219,1731.31" fill="none" stroke="#111" stroke-width="1.4" stroke-linejoin="round"/>
<path d="M226.7,1761.32 L222.08,1753.88 L225.42,1731.05" fill="none" stroke="#111" stroke-width="1.4" stroke-linejoin="round"/>
<ellipse cx="215.67" cy="1765.17" rx="2" ry="4" fill="#fff" stroke="#1B2540" stroke-width="1.35" transform="rotate(22 215.67 1765.17)"/>
<ellipse cx="228.5" cy="1765.43" rx="2" ry="4" fill="#fff" stroke="#1B2540" stroke-width="1.35" transform="rotate(-22 228.5 1765.43)"/>
<rect x="106.19" y="1797.79" width="28.11" height="9.69" fill="#B4C7E7" stroke="#1B2540" stroke-width="1.6" transform="rotate(-28 120.25 1802.64)"/>
<rect x="104.64" y="1819.89" width="28.11" height="9.69" fill="#B4C7E7" stroke="#1B2540" stroke-width="1.6" transform="rotate(-28 118.7 1824.74)"/>
<rect x="154.07" y="1796.24" width="10.66" height="27.14" fill="#F88080" stroke="#1B2540" stroke-width="1.6" transform="rotate(11 159.4 1809.81)"/>
<polygon points="189.25,1812.91 200.5,1802.64 231.32,1802.64 231.32,1824.93 200.5,1824.93" fill="#FDB913" stroke="#000" stroke-width="1.7"/>
<polygon points="216.78,1809.62 216.78,1817.18 209.03,1813.3" fill="#000"/>
<text x="471.04" y="1693.6" font-size="26" letter-spacing="0.536" stroke="#000" stroke-width="0.55">DpnII</text>
<text x="449.08" y="1727.5" font-size="26" letter-spacing="0.345" stroke="#000" stroke-width="0.55">digestion</text>
<line x1="447.1" y1="1757.5" x2="547" y2="1757.5" stroke="#000" stroke-width="5"/>
<polygon points="546,1744.3 546,1770.7 573.1,1757.5" fill="#000"/>
<text x="976.67" y="1693.9" font-size="26" letter-spacing="0.335" stroke="#000" stroke-width="0.55">Intra-molecular</text>
<text x="1023.52" y="1727.7" font-size="26" letter-spacing="0.329" stroke="#000" stroke-width="0.55">ligation</text>
<line x1="989.3" y1="1757.3" x2="1089.1" y2="1757.3" stroke="#000" stroke-width="5"/>
<polygon points="1088.1,1744.1 1088.1,1770.5 1114.8,1757.3" fill="#000"/>
<text x="1677.98" y="1693.5" font-size="26" word-spacing="1.30" letter-spacing="0.273" stroke="#000" stroke-width="0.55">ddPCR using</text>
<text x="1664.23" y="1727.7" font-size="26" word-spacing="1.30" letter-spacing="0.231" stroke="#000" stroke-width="0.55">internal primers</text>
<line x1="1694.4" y1="1757.5" x2="1794.4" y2="1757.5" stroke="#000" stroke-width="5"/>
<polygon points="1793.4,1744.3 1793.4,1770.7 1819.9,1757.5" fill="#000"/>
<line x1="728.5" y1="1631.7" x2="728.5" y2="1692.9" stroke="#000" stroke-width="3.1" stroke-dasharray="11 8.4"/>
<line x1="837" y1="1631.7" x2="837" y2="1692.9" stroke="#000" stroke-width="3.1" stroke-dasharray="11 8.4"/>
<line x1="750.1" y1="1825.6" x2="750.1" y2="1887.2" stroke="#000" stroke-width="3.1" stroke-dasharray="11 8.4"/>
<line x1="820.5" y1="1825.6" x2="820.5" y2="1887.2" stroke="#000" stroke-width="3.1" stroke-dasharray="11 8.4"/>
<polygon points="731.42,1679.08 818.59,1679.08 842.17,1702.29 818.52,1726.11 731.57,1726.11" fill="#F4766F" stroke="#000" stroke-width="1.5"/>
<polygon points="766.79,1695.01 766.79,1710.06 798.15,1702.29" fill="#000"/>
<circle cx="756.37" cy="1743.5" r="11.69" fill="#F9D65C"/>
<rect x="771.2" y="1733.52" width="18.81" height="19.1" fill="#07189C"/>
<rect x="793.43" y="1733.52" width="18.81" height="19.1" fill="#0C9BFA"/>
<polygon points="756.37,1751.2 744.97,1774.57 768.35,1774.57" fill="#0DB04F"/>
<polygon points="781.46,1752.62 794.29,1765.45 781.46,1778.28 768.63,1765.45" fill="#0FA8F5"/>
<polygon points="804.83,1753.48 816.24,1764.88 804.83,1776.28 793.43,1764.88" fill="#FF0000"/>
<polygon points="729.86,1802.22 749.25,1778.85 823.36,1778.85 823.36,1825.6 749.25,1825.6" fill="#fff" stroke="#1C2D55" stroke-width="2"/>
<polygon points="795.71,1793.1 795.71,1808.78 764.93,1800.51" fill="#000"/>
<text x="709.57" y="1621" font-size="23.3" letter-spacing="-0.894" stroke="#000" stroke-width="0.49">289</text>
<text x="818.66" y="1621" font-size="23.3" letter-spacing="-0.935" stroke="#000" stroke-width="0.49">620</text>
<text x="718.31" y="1908.4" font-size="23.3" letter-spacing="-0.670" stroke="#000" stroke-width="0.49">4535</text>
<text x="803.91" y="1908.4" font-size="23.3" letter-spacing="-0.726" stroke="#000" stroke-width="0.49">4240</text>
<path d="M1312.1,1761.6 L1312.1,1759.8 A91.2 92.9 0 0 1 1494.5,1759.8 L1494.5,1761.6 L1469.3,1761.6 L1469.3,1759.8 A66 67.4 0 0 0 1337.3,1759.8 L1337.3,1761.6 Z" fill="#FF7F7F"/>
<ellipse cx="1403.3" cy="1759.8" rx="91.2" ry="92.9" fill="none" stroke="#000" stroke-width="3.7"/>
<ellipse cx="1403.3" cy="1759.8" rx="66" ry="67.4" fill="none" stroke="#000" stroke-width="3.7"/>
<polygon points="1394.88,1671.2 1394.88,1688.85 1429.77,1679.61" fill="#000"/>
<polygon points="1423.82,1830.48 1423.82,1847.72 1387.9,1838.69" fill="#000"/>
<text x="1262.67" y="1754.8" font-size="27" letter-spacing="-0.481" fill="#EE8383" stroke="#EE8383" stroke-width="0.25">289</text>
<text x="1500.55" y="1758.3" font-size="27" letter-spacing="-0.435" fill="#EE8383" stroke="#EE8383" stroke-width="0.25">622</text>
<text x="1247.66" y="1795.3" font-size="27" letter-spacing="-0.626" stroke="#000" stroke-width="0.57">4535</text>
<text x="1498.76" y="1800.3" font-size="27" letter-spacing="-0.719" stroke="#000" stroke-width="0.57">4240</text>
<path d="M1930.6,1761.6 L1930.6,1759.9 A91.3 93.5 0 0 1 2113.2,1759.9 L2113.2,1761.6 L2088.3,1761.6 L2088.3,1759.9 A66.4 68.1 0 0 0 1955.5,1759.9 L1955.5,1761.6 Z" fill="#FF7F7F"/>
<ellipse cx="2021.9" cy="1759.9" rx="91.3" ry="93.5" fill="none" stroke="#000" stroke-width="3.7"/>
<ellipse cx="2021.9" cy="1759.9" rx="66.4" ry="68.1" fill="none" stroke="#000" stroke-width="3.7"/>
<polygon points="2012.16,1671.2 2012.16,1688.17 2048.84,1679.68" fill="#000"/>
<polygon points="2041.31,1831.57 2041.31,1848.26 2004.77,1839.78" fill="#000"/>
<path d="M2114,1700 Q2132.3,1756 2117.4,1807.7" fill="none" stroke="#828282" stroke-width="2.9"/>
<polygon points="2087.99,1679.71 2104.39,1695.51 2101.41,1698.61 2113.1,1698.4 2112.79,1686.79 2109.81,1689.89 2093.41,1674.09" fill="#828282"/>
<polygon points="2105.85,1837.9 2115.15,1817.3 2119.07,1819.07 2114.9,1808.3 2104.13,1812.33 2108.05,1814.1 2098.75,1834.7" fill="#828282"/>
</g>
<g id="panel-d">
<text transform="translate(-3.94 2096.88) scale(1.0306 1)" x="0" y="0" font-size="78.43" stroke="#000" stroke-width="0.5">d</text>
<text x="445.22" y="2089.5" font-size="25.5" word-spacing="1.28" letter-spacing="0.286" stroke="#000" stroke-width="0.54">p = 0.022</text>
<line x1="418.4" y1="2117.3" x2="581.9" y2="2117.3" stroke="#000" stroke-width="3.9"/>
<rect x="358.8" y="2213.3" width="106.4" height="265.8" fill="#A2A1A6" stroke="#000" stroke-width="1.7"/>
<rect x="520.32" y="2442.66" width="105.56" height="36.44" fill="#A2A1A6" stroke="#000" stroke-width="1.7"/>
<line x1="304.8" y1="2124.65" x2="304.8" y2="2480.85" stroke="#000" stroke-width="3.5"/>
<line x1="297" y1="2479.1" x2="681.65" y2="2479.1" stroke="#000" stroke-width="3.5"/>
<line x1="297" y1="2126.4" x2="304.8" y2="2126.4" stroke="#000" stroke-width="3.5"/>
<line x1="297" y1="2244.1" x2="304.8" y2="2244.1" stroke="#000" stroke-width="3.5"/>
<line x1="297" y1="2361.7" x2="304.8" y2="2361.7" stroke="#000" stroke-width="3.5"/>
<line x1="412" y1="2479.1" x2="412" y2="2488.9" stroke="#000" stroke-width="3.5"/>
<line x1="573.09" y1="2479.1" x2="573.09" y2="2488.9" stroke="#000" stroke-width="3.5"/>
<line x1="411.9" y1="2146.3" x2="411.9" y2="2278.2" stroke="#000" stroke-width="1.9"/>
<line x1="384.9" y1="2146.3" x2="439" y2="2146.3" stroke="#000" stroke-width="2.1"/>
<line x1="384.9" y1="2278.2" x2="439" y2="2278.2" stroke="#000" stroke-width="2.1"/>
<line x1="573.09" y1="2428.29" x2="573.09" y2="2455.83" stroke="#000" stroke-width="1.9"/>
<line x1="546.35" y1="2428.29" x2="599.83" y2="2428.29" stroke="#000" stroke-width="2.1"/>
<line x1="546.35" y1="2455.83" x2="599.83" y2="2455.83" stroke="#000" stroke-width="2.1"/>
<ellipse cx="412.2" cy="2141" rx="5.4" ry="7.1" fill="#000"/>
<ellipse cx="412.2" cy="2224.8" rx="5.4" ry="7.1" fill="#000"/>
<ellipse cx="412.2" cy="2270.8" rx="5.4" ry="7.1" fill="#000"/>
<ellipse cx="565.51" cy="2433.08" rx="5.4" ry="7.1" fill="#000"/>
<ellipse cx="580.68" cy="2435.87" rx="5.4" ry="7.1" fill="#000"/>
<ellipse cx="573.09" cy="2457.82" rx="5.4" ry="7.1" fill="#000"/>
<text x="221.29" y="2135" font-size="25" letter-spacing="0.847" stroke="#000" stroke-width="0.53">0.006</text>
<text x="221.29" y="2252.3" font-size="25" letter-spacing="0.756" stroke="#000" stroke-width="0.53">0.004</text>
<text x="221.29" y="2369.8" font-size="25" letter-spacing="0.887" stroke="#000" stroke-width="0.53">0.002</text>
<text x="221.29" y="2487" font-size="25" letter-spacing="0.817" stroke="#000" stroke-width="0.53">0.000</text>
<text transform="translate(171.6 2439.1) rotate(-90)" x="-0.31" y="0" font-size="26" word-spacing="1.30" letter-spacing="0.185" stroke="#000" stroke-width="0.55">TF mediated LTR-OCR</text>
<text transform="translate(204.3 2392) rotate(-90)" x="-1.47" y="0" font-size="26" word-spacing="1.30" letter-spacing="0.135" stroke="#000" stroke-width="0.55">interaction / tax</text>
<text x="50.57" y="2544.5" font-size="26" word-spacing="1.30" letter-spacing="0.151" stroke="#000" stroke-width="0.55">Infected JET cells:</text>
<text x="338.51" y="2544.5" font-size="26" letter-spacing="-0.131" stroke="#000" stroke-width="0.55">wt-HTLV-1</text>
<text x="488.45" y="2544.5" font-size="26" letter-spacing="0.165" stroke="#000" stroke-width="0.55">s-mut-HTLV-1</text>
</g>
</svg>
</body>
</html>
